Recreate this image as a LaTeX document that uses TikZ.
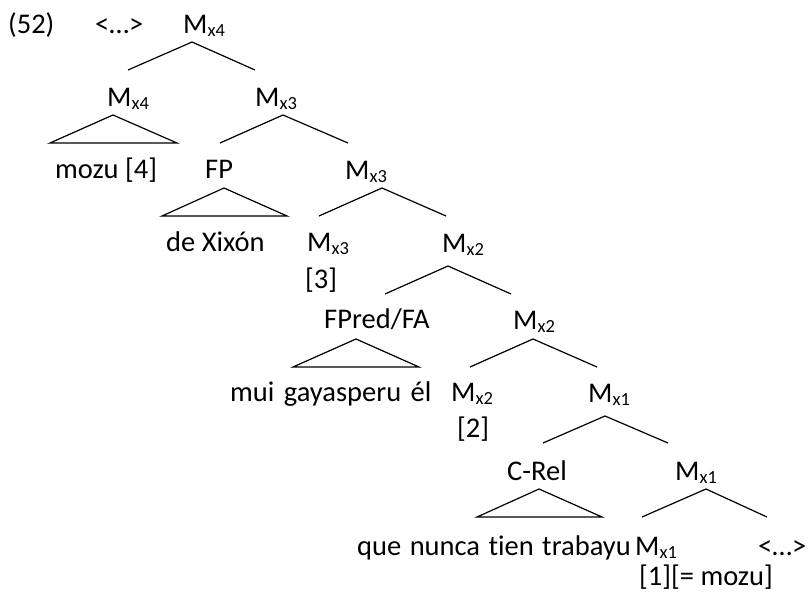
\documentclass[tikz,border=0pt]{standalone}
\usepackage{fontspec}
\setmainfont{Carlito}[Ligatures=NoCommon]
\newcommand\Mx[1]{M\raisebox{-3.5pt}{\fontsize{18.5}{20}\selectfont x#1}}
\tikzset{
  lbl/.style={anchor=base west,inner sep=0pt,font=\fontsize{28.5}{34}\selectfont},
  br/.style={line width=1.2pt,line join=miter},
}
\begin{document}
\begin{tikzpicture}[x=1pt,y=-1pt]
\useasboundingbox (0,0) rectangle (808,592);
% row 1
\node[lbl] (n52) at (8,33) {(52)};
\node[lbl] (dots1) at (95,33) {<…>};
\node[lbl] (m4a) at (183,33) {\Mx{4}};
% row 2
\node[lbl] (m4b) at (107,106) {\Mx{4}};
\node[lbl] (m3a) at (255,106) {\Mx{3}};
% row 3
\node[lbl] (mozu) at (55,178) {mozu [4]};
\node[lbl] (fp) at (205,178) {FP};
\node[lbl] (m3b) at (345,179) {\Mx{3}};
% row 4
\node[lbl] (dex) at (166,251) {de Xixón};
\node[lbl] (m3c) at (307,251) {\Mx{3}};
\node[lbl] (b3) at (305,288) {[3]};
\node[lbl] (m2a) at (442,252) {\Mx{2}};
% row 5
\node[lbl] (fpred) at (324,328) {FPred/FA};
\node[lbl] (m2b) at (513,329) {\Mx{2}};
% row 6
\node[lbl] (mui) at (230,401) {mui\hspace{3pt} gayasperu\hspace{3pt} él};
\node[lbl] (m2c) at (451,401) {\Mx{2}};
\node[lbl] (b2) at (457,437) {[2]};
\node[lbl] (m1a) at (588,402) {\Mx{1}};
% row 7
\node[lbl] (crel) at (507,480) {C-Rel};
\node[lbl] (m1b) at (675,480) {\Mx{1}};
% row 8
\node[lbl] (que) at (357,555) {que\hspace{2pt} nunca\hspace{2pt} tien\hspace{2pt} trabayu};
\node[lbl] (m1c) at (635,555) {\Mx{1}};
\node[lbl] (dots2) at (758,555) {<…>};
\node[lbl] (b1) at (639,585) {[1][= mozu]};
% branch points
\coordinate (a1) at (192,42);  \coordinate (a1l) at (128,70);  \coordinate (a1r) at (255,70);
\coordinate (t1) at (113,115); \coordinate (t1l) at (50,143);  \coordinate (t1r) at (177,143);
\coordinate (a2) at (283,115); \coordinate (a2l) at (220,143); \coordinate (a2r) at (348,143);
\coordinate (t2) at (224,188); \coordinate (t2l) at (162,216); \coordinate (t2r) at (287,216);
\coordinate (a3) at (382,188); \coordinate (a3l) at (319,216); \coordinate (a3r) at (446,216);
\coordinate (a4) at (448,266); \coordinate (a4l) at (385,294); \coordinate (a4r) at (511,294);
\coordinate (t3) at (356,339); \coordinate (t3l) at (293,367); \coordinate (t3r) at (419,367);
\coordinate (a5) at (533,339); \coordinate (a5l) at (470,367); \coordinate (a5r) at (597,367);
\coordinate (a6) at (605,416); \coordinate (a6l) at (543,443); \coordinate (a6r) at (668,443);
\coordinate (t4) at (539,489); \coordinate (t4l) at (477,517); \coordinate (t4r) at (602,517);
\coordinate (a7) at (706,489); \coordinate (a7l) at (642,517); \coordinate (a7r) at (767,517);
% branches
\foreach \p in {a1,a2,a3,a4,a5,a6,a7}{
  \draw[br] (\p l) -- (\p) -- (\p r);
}
\foreach \p in {t1,t2,t3,t4}{
  \draw[br] (\p l) -- (\p) -- (\p r) -- cycle;
}
\end{tikzpicture}
\end{document}
